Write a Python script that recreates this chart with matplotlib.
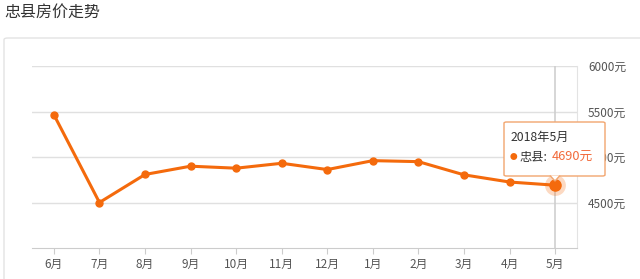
import matplotlib.pyplot as plt
from matplotlib.patches import FancyBboxPatch, Polygon

plt.rcParams['font.family'] = ['Noto Sans CJK SC', 'DejaVu Sans']

# --- Data ---
months = ['6月', '7月', '8月', '9月', '10月', '11月', '12月',
          '1月', '2月', '3月', '4月', '5月']
prices = [5465, 4500, 4808, 4899, 4877, 4931, 4862,
          4960, 4949, 4804, 4725, 4690]
yticks = [4500, 5000, 5500, 6000]
title = '忠县房价走势'
tip_title = '2018年5月'
tip_name = '忠县:'

orange = '#f46a0c'

fig = plt.figure(figsize=(6.4, 2.79), dpi=100)

# title and panel frame
fig.text(4 / 640, 1 - 12 / 279, title, fontsize=11.5, color='#333333',
         va='center', ha='left')
frame = FancyBboxPatch((4 / 640, -0.05), 1.2, 1 - 38 / 279 + 0.05,
                       boxstyle='round,pad=0,rounding_size=0.006',
                       transform=fig.transFigure, fill=False,
                       edgecolor='#e3e3e3', linewidth=1)
fig.patches.append(frame)

ax = fig.add_axes([32 / 640, 1 - 248 / 279, 545 / 640, 182 / 279])
x = list(range(len(months)))
ax.set_xlim(-0.48, len(months) - 0.52)
ax.set_ylim(4000, 6000)

for v in yticks:
    ax.axhline(v, color='#e0e0e0', linewidth=1, zorder=0)

for s in ['top', 'left']:
    ax.spines[s].set_visible(False)
ax.spines['right'].set_color('#e3e3e3')
ax.spines['bottom'].set_color('#cccccc')

ax.set_xticks(x)
ax.set_xticklabels(months, fontsize=8.5, color='#555555')
ax.tick_params(axis='x', length=4, color='#cccccc', pad=3)
ax.yaxis.tick_right()
ax.set_yticks(yticks)
ax.set_yticklabels([f'{v}元' for v in yticks], fontsize=8.5, color='#555555')
ax.tick_params(axis='y', length=0, pad=8)

# crosshair on last point
ax.axvline(x[-1], color='#cfcfcf', linewidth=1.2, zorder=1)

ax.plot(x, prices, color=orange, linewidth=2.2, marker='o', markersize=5,
        zorder=3)
ax.plot(x[-1], prices[-1], 'o', color=orange, markersize=15, alpha=0.25,
        zorder=3, markeredgewidth=0)
ax.plot(x[-1], prices[-1], 'o', color=orange, markersize=8, zorder=4)

# tooltip
trans = fig.transFigure
bx0, by0, bx1, by1 = 504 / 640, 1 - 176 / 279, 605 / 640, 1 - 122 / 279
box = FancyBboxPatch((bx0, by0), bx1 - bx0, by1 - by0,
                     boxstyle='round,pad=0,rounding_size=0.004',
                     transform=trans, facecolor='white',
                     edgecolor='#f2a56e', linewidth=1, zorder=10)
fig.patches.append(box)
px = 555 / 640
tri = Polygon([(px - 5 / 640, by0 + 0.5 / 279), (px, by0 - 5 / 279),
               (px + 5 / 640, by0 + 0.5 / 279)], closed=False,
              transform=trans, facecolor='white', edgecolor='#f2a56e',
              linewidth=1, zorder=11)
fig.patches.append(tri)
fig.text(511 / 640, 1 - 137 / 279, tip_title, fontsize=8.8, color='#333333',
         va='center', ha='left', zorder=12)
fig.text(510 / 640, 1 - 157 / 279, '●', fontsize=5.5, color=orange,
         va='center', ha='left', zorder=12)
fig.text(519 / 640, 1 - 157 / 279, tip_name, fontsize=8.8, color='#333333',
         va='center', ha='left', zorder=12)
fig.text(552 / 640, 1 - 157 / 279, f'{prices[-1]}元', fontsize=9.2,
         color='#f26a3a', va='center', ha='left', zorder=12)

fig.savefig('out.png', dpi=100, facecolor='white')
